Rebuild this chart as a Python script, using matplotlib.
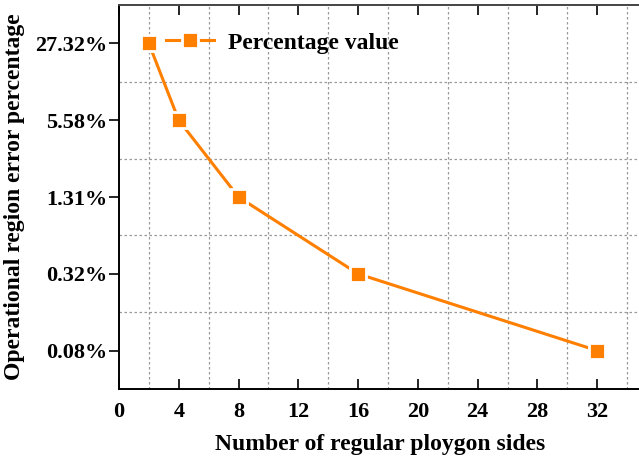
import matplotlib

matplotlib.use("Agg")
import matplotlib.pyplot as plt
from matplotlib.ticker import FixedLocator

# Error of the operational region for each polygon
sides = [2, 4, 8, 16, 32]
error_labels = ["27.32%", "5.58%", "1.31%", "0.32%", "0.08%"]
x_ticks = [0, 4, 8, 12, 16, 20, 24, 28, 32]

orange = "#ff7f00"
plt.rcParams["font.family"] = ["Liberation Serif", "DejaVu Serif"]
plt.rcParams["font.weight"] = "bold"

fig = plt.figure(figsize=(6.39, 4.62), dpi=100)
ax = fig.add_axes([0.1862, 0.158, 0.8185, 0.831])

# y values are categories, one row per labelled error value
ax.plot(sides, error_labels, color=orange, linewidth=2.2, marker="s", markersize=12,
        markerfacecolor=orange, markeredgecolor="white", markeredgewidth=2.0,
        label="Percentage value", zorder=3)

ax.set_xlim(0, 35)
ax.set_ylim(4.5, -0.5)
ax.xaxis.set_major_locator(FixedLocator(x_ticks))
ax.xaxis.set_minor_locator(FixedLocator([2, 6, 10, 14, 18, 22, 26, 30, 34]))
ax.yaxis.set_minor_locator(FixedLocator([0.5, 1.5, 2.5, 3.5]))
ax.set_xticklabels([str(t) for t in x_ticks])

ax.grid(which="minor", color="#999999", linestyle=(0, (2, 2)), linewidth=0.9)
ax.tick_params(axis="x", which="major", direction="in", length=7, width=1.2,
               top=True, labelsize=16, pad=9)
ax.tick_params(axis="y", which="major", direction="out", length=7, width=1.2,
               labelsize=16, pad=1.5)
ax.tick_params(axis="y", which="major", right=True)
ax.tick_params(which="minor", length=0)
for t in ax.get_xticklabels() + ax.get_yticklabels():
    t.set_fontweight("bold")

ax.spines["left"].set_linewidth(1.4)
ax.spines["bottom"].set_linewidth(1.4)
ax.spines["top"].set_linewidth(1.4)
ax.spines["top"].set_color("#444444")

ax.set_xlabel("Number of regular ploygon sides", fontsize=17, fontweight="bold", labelpad=9)
ax.set_ylabel("Operational region error percentage", fontsize=17, fontweight="bold", labelpad=7)

ax.legend(loc="upper left", bbox_to_anchor=(0.05, 0.985), frameon=False,
          handlelength=2.0, handletextpad=0.6, prop={"weight": "bold", "size": 17})

fig.savefig("out.png", dpi=100)
